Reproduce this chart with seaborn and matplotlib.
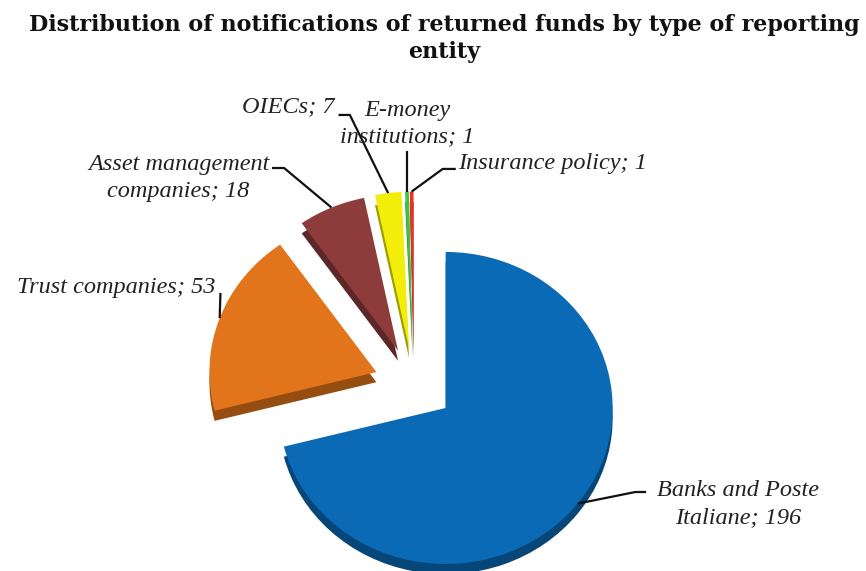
import numpy as np
import matplotlib
matplotlib.use("Agg")
import matplotlib.pyplot as plt
import seaborn as sns
from matplotlib.colors import to_rgb

# Notifications of returned funds by type of reporting entity
categories = ["Banks and Poste\nItaliane", "Trust companies", "Asset management\ncompanies",
              "OIECs", "E-money\ninstitutions", "Insurance policy"]
counts = [196, 53, 18, 7, 1, 1]
slice_colors = ["#0B6AB6", "#E2741B", "#8E3B3B", "#F2EE0A", "#3EC43E", "#E8322A"]

sns.set_theme(style="white")
plt.rcParams["font.family"] = ["Liberation Serif", "DejaVu Serif"]

fig = plt.figure(figsize=(8.66, 5.71), dpi=100)
ax = fig.add_axes([0, 0, 1, 1])

explode = [0.24] * len(counts)
depth = 0.065
side_colors = [tuple(c * 0.66 for c in to_rgb(col)) for col in slice_colors]

# darker copy underneath gives the extruded side of the disc
ax.pie(counts, colors=side_colors, startangle=90, counterclock=False,
       explode=explode, center=(0, -depth), wedgeprops=dict(linewidth=0))
wedges, _ = ax.pie(counts, colors=slice_colors, startangle=90, counterclock=False,
                   explode=explode, wedgeprops=dict(linewidth=0))

# slightly flattened disc (perspective)
ax.set_aspect("auto")
ax.set_xlim(-414 / 167, 452 / 167)
ax.set_ylim(-186 / 156, 385 / 156)
ax.axis("off")


def rim_point(w):
    th = np.deg2rad(0.5 * (w.theta1 + w.theta2))
    cx, cy = w.center
    return cx + w.r * np.cos(th), cy + w.r * np.sin(th)


# text position, alignment, and leader path (start, optional elbow)
layout = [
    ((1.940, -0.763), "center", [(1.390, -0.686), (1.325, -0.686)]),
    ((-1.190, 0.628), "right", [(-1.159, 0.590)]),
    ((-1.410, 1.327), "center", [(-0.850, 1.391), (-0.778, 1.391)]),
    ((-0.475, 1.782), "right", [(-0.452, 1.731), (-0.384, 1.731)]),
    ((-0.042, 1.676), "center", None),
    ((0.262, 1.423), "left", [(0.250, 1.385), (0.172, 1.385)]),
]

for w, name, val, (pos, ha, path) in zip(wedges, categories, counts, layout):
    ax.text(pos[0], pos[1], f"{name}; {val}", ha=ha, va="center", multialignment="center",
            fontsize=17.5, fontstyle="italic", color="#222222", linespacing=1.35)
    ax_, ay_ = rim_point(w)
    if path is None:
        pts = [(ax_, 1.500), (ax_, ay_)]
    else:
        pts = path + [(ax_, ay_)]
    xs, ys = zip(*pts)
    ax.plot(xs, ys, color="#111111", linewidth=1.6, solid_capstyle="butt")

fig.text(0.513, 0.976, "Distribution of notifications of returned funds by type of reporting\nentity",
         ha="center", va="top", fontsize=16, fontweight="bold", color="#111111",
         linespacing=1.3, family=["DejaVu Serif"])

fig.savefig("out.png", dpi=100)
